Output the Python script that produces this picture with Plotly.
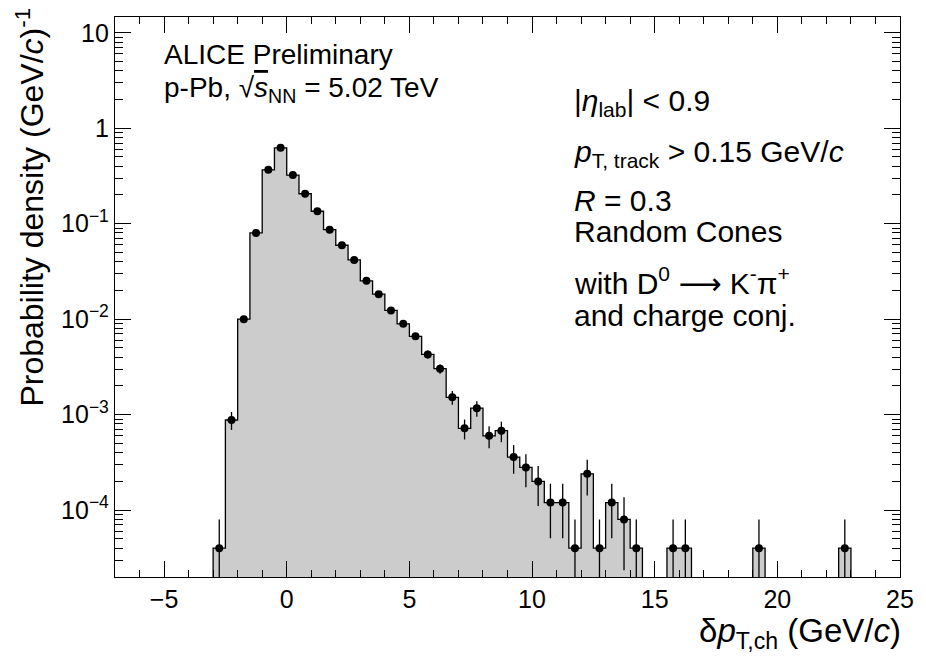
import numpy as np
import plotly.graph_objects as go

# Random-cone delta pT distribution (bin width 0.5 GeV/c), non-empty bins only
bin_centers = [-2.75, -2.25, -1.75, -1.25, -0.75, -0.25, 0.25, 0.75, 1.25, 1.75,
               2.25, 2.75, 3.25, 3.75, 4.25, 4.75, 5.25, 5.75, 6.25, 6.75,
               7.25, 7.75, 8.25, 8.75, 9.25, 9.75, 10.25, 10.75, 11.25, 11.75,
               12.25, 12.75, 13.25, 13.75, 14.25, 15.75, 16.25, 19.25, 22.75]
density = [4.0e-5, 8.8e-4, 0.0100, 0.080, 0.367, 0.624, 0.323, 0.206, 0.135, 0.0867,
           0.0595, 0.0418, 0.0252, 0.0183, 0.01236, 0.00895, 0.00661, 0.00428, 0.00303, 0.00152,
           7.2e-4, 1.17e-3, 6.0e-4, 6.8e-4, 3.6e-4, 2.8e-4, 2.0e-4, 1.2e-4, 1.2e-4, 4.0e-5,
           2.4e-4, 4.0e-5, 1.2e-4, 8.0e-5, 4.0e-5, 4.0e-5, 4.0e-5, 4.0e-5, 4.0e-5]
bin_width = 0.5
entry_density = 4.0e-5      # density contributed by a single entry
hist_lo, hist_hi = -3.0, 23.0

x_ticks = [-5, 0, 5, 10, 15, 20, 25]
y_ticks = [10, 1, 0.1, 0.01, 0.001, 0.0001]
y_tick_text = ["10", "1", "10<sup>\u22121</sup>", "10<sup>\u22122</sup>",
               "10<sup>\u22123</sup>", "10<sup>\u22124</sup>"]

centers = np.array(bin_centers)
vals = np.array(density)
floor = 1e-9

# step outline of the histogram, empty bins sent below the axis
lookup = {round(c, 2): v for c, v in zip(centers, vals)}
step_x, step_y = [hist_lo], [floor]
for lo in np.arange(hist_lo, hist_hi, bin_width):
    v = lookup.get(round(lo + bin_width / 2, 2), floor)
    step_x += [lo, lo + bin_width]
    step_y += [v, v]
step_x.append(hist_hi)
step_y.append(floor)

# Poisson errors from the entry counts
err = np.sqrt(vals * entry_density)
err_minus = np.minimum(err, vals * 0.99999)

fig = go.Figure()
fig.add_trace(go.Scatter(x=step_x, y=step_y, mode="lines", fill="toself",
                         fillcolor="#cccccc", line=dict(color="black", width=1.3),
                         hoverinfo="skip", showlegend=False))
fig.add_trace(go.Scatter(x=centers, y=vals, mode="markers",
                         marker=dict(color="black", size=8),
                         error_y=dict(type="data", array=err, arrayminus=err_minus,
                                      color="black", thickness=1.3, width=0),
                         showlegend=False))

minor_y = [m * 10.0 ** e for e in range(-5, 2) for m in range(2, 10)]

font = "Liberation Sans, Arial, sans-serif"
L, R, T, B = 115, 16, 17, 79
W, H = 926, 656
fig.update_layout(
    width=W, height=H,
    margin=dict(l=L, r=R, t=T, b=B),
    paper_bgcolor="white", plot_bgcolor="white",
    font=dict(family=font, size=25, color="black"),
    xaxis=dict(range=[-7, 25], tickvals=x_ticks, ticks="inside", ticklen=16,
               tickwidth=1.3, tickcolor="black", showline=True, linecolor="black",
               linewidth=1.3, mirror="allticks", showgrid=False, zeroline=False,
               tickfont=dict(size=25),
               minor=dict(dtick=1, ticks="inside", ticklen=7, tickwidth=1.3,
                          tickcolor="black", showgrid=False)),
    yaxis=dict(type="log", range=[-4.70, 1.165], tickvals=y_ticks, ticktext=y_tick_text,
               ticks="inside", ticklen=16, tickwidth=1.3, tickcolor="black",
               showline=True, linecolor="black", linewidth=1.3, mirror="allticks",
               showgrid=False, zeroline=False, tickfont=dict(size=25),
               minor=dict(tickvals=minor_y, ticks="inside", ticklen=8, tickwidth=1.3,
                          tickcolor="black", showgrid=False)),
)


def px_to_paper(px, py):
    return (px - L) / (W - L - R), 1 - (py - T) / (H - T - B)


ann = []
tx, ty = px_to_paper(28, 6)
ann.append(dict(text="Probability density (GeV/<i>c</i>)<sup>-1</sup>", xref="paper", yref="paper",
                x=tx, y=ty, xanchor="center", yanchor="top", textangle=-90,
                showarrow=False, font=dict(size=32)))
tx, ty = px_to_paper(913, 610)
ann.append(dict(text="\u03b4<i>p</i><sub>T,ch</sub> (GeV/<i>c</i>)", xref="paper", yref="paper",
                x=tx, y=ty, xanchor="right", yanchor="top", showarrow=False,
                font=dict(size=33)))


def label(text, px, py, size=30):
    x, y = px_to_paper(px, py)
    ann.append(dict(text=text, xref="paper", yref="paper", x=x, y=y,
                    xanchor="left", yanchor="middle", showarrow=False,
                    font=dict(size=size)))


arrow = "<span style='font-family:DejaVu Sans'>\u27f6</span>"
label("ALICE Preliminary", 163, 55, 28)
label("p-Pb, \u221a<span style='text-decoration:overline'><i>s</i></span><sub>NN</sub> = 5.02 TeV",
      163, 90, 28)
label("|<i>\u03b7</i><sub>lab</sub>| < 0.9", 578, 102)
label("<i>p</i><sub>T, track</sub> > 0.15 GeV/<i>c</i>", 578, 153)
label("<i>R</i> = 0.3", 578, 201)
label("Random Cones", 578, 232)
label("with D<sup>0</sup> " + arrow + " K<sup>-</sup>\u03c0<sup>+</sup>", 578, 281)
label("and charge conj.", 578, 315)

fig.update_layout(annotations=ann)
fig.write_html("out.html")
